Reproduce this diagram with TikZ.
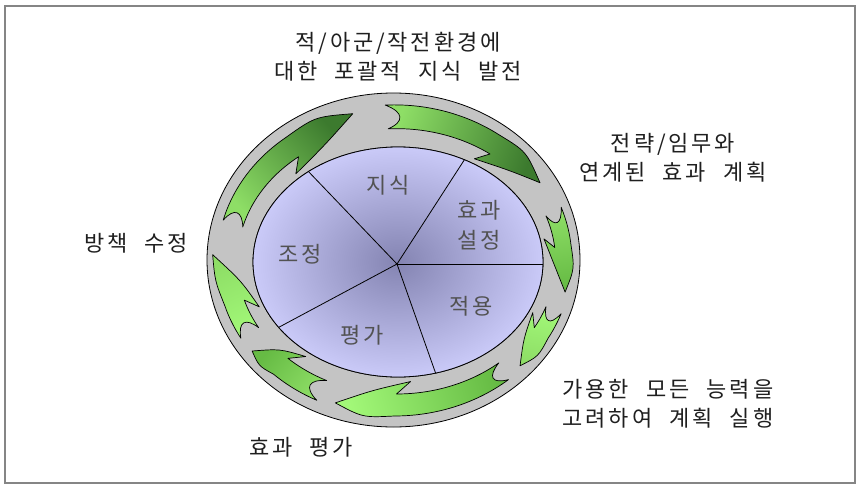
\documentclass[tikz,border=0pt]{standalone}
\usepackage{fontspec}
\newfontfamily\kr[LetterSpace=13, WordSpace=2.2]{Noto Sans CJK KR}
\definecolor{framegray}{HTML}{858585}
\definecolor{ringgray}{HTML}{C4C4C4}
\definecolor{lavdark}{HTML}{8484B2}
\definecolor{lavlight}{HTML}{CACAF8}
\definecolor{gdark}{HTML}{3C7A2E}
\definecolor{gmid}{HTML}{66BB44}
\definecolor{glight}{HTML}{8EDE66}
\definecolor{gpale}{HTML}{A2F878}
\pgfkeys{/ringcs/.cd, a/.store in=\RingA, r/.store in=\RingR, a=0, r=0}
\tikzdeclarecoordinatesystem{ring}{%
  \pgfkeys{/ringcs/.cd,#1}%
  \pgfmathsetmacro\RingX{398-4.5*\RingR+(145+41.5*\RingR)*cos(\RingA)}%
  \pgfmathsetmacro\RingY{262-2*\RingR-(115+52*\RingR)*sin(\RingA)}%
  \pgfpoint{\RingX pt}{-\RingY pt}}
% #1 tail angle, #2 head-base angle, #3 tip angle, #4 tip radius, #5 shading options
\newcommand\ringarrow[5]{%
  \shadedraw[arrowshape,#5]
    plot[domain=#1:#2, samples=30, variable=\t] (ring cs:a=\t, r=0.78)
    .. controls (ring cs:a={#2-(#2-#3)*0.5}, r=0.86) .. (ring cs:a=#3, r=#4)
    .. controls (ring cs:a={#3+(#2-#3)*0.55}, r=0.3) .. (ring cs:a=#2+5, r=0.1)
    -- (ring cs:a=#2, r=0.34)
    -- plot[domain=#2:#1, samples=30, variable=\t] (ring cs:a=\t, r=0.34)
    .. controls (ring cs:a=#1-6, r=0.47) and (ring cs:a=#1-6, r=0.65) .. (ring cs:a=#1, r=0.78)
    -- cycle;}
\begin{document}
\begin{tikzpicture}[x=1pt,y=-1pt,
  outerlbl/.style={font=\kr\fontsize{22}{29}\selectfont, text=black!88, align=center, inner sep=0pt},
  innerlbl/.style={font=\kr\fontsize{22}{30}\selectfont, text=black!68, align=center, inner sep=0pt},
  arrowshape/.style={draw=black, line width=0.7pt, line join=round},
  outline/.style={draw=black, line width=0.8pt},
  sector/.style={draw=black, line width=0.8pt}]
\useasboundingbox (0,0) rectangle (861,490);
\draw[framegray, line width=2pt] (5,6) rectangle (855,483);
% ring
\filldraw[fill=ringgray, outline, even odd rule]
  (393.5,260) ellipse [x radius=186.5pt, y radius=167pt]
  (398,262) ellipse [x radius=145pt, y radius=115pt];
% arrows (clockwise)
\ringarrow{165}{128}{104}{0.7}{top color=gdark, bottom color=glight, shading angle=-47}
\ringarrow{93}{54}{32}{0.62}{top color=gdark, bottom color=glight, shading angle=-109}
\ringarrow{20}{6}{-12}{0.7}{top color=gmid, bottom color=glight, shading angle=-170}
\ringarrow{-20}{-30}{-44}{0.7}{top color=glight, bottom color=gpale, shading angle=-191}
\ringarrow{-50}{-90}{-110}{0.7}{top color=gpale, bottom color=gmid, shading angle=105}
\ringarrow{244}{227}{216}{0.75}{top color=gmid, bottom color=glight, shading angle=50}
\ringarrow{210}{197}{178}{0.88}{top color=glight, bottom color=gpale, shading angle=24}
% inner disc
\shade[inner color=lavdark, outer color=lavlight] (398,262) ellipse [x radius=145pt, y radius=115pt];
\coordinate (hub) at (397,264);
\begin{scope}
  \clip (398,262) ellipse [x radius=145pt, y radius=115pt];
  \draw[sector] (hub) -- (590,264);
  \draw[sector] (hub) -- (483,131);
  \draw[sector] (hub) -- (284,146);
  \draw[sector] (hub) -- (242,347);
  \draw[sector] (hub) -- (449,411);
\end{scope}
\draw[outline] (398,262) ellipse [x radius=145pt, y radius=115pt];
% inner labels
\node[innerlbl] (jisik) at (388,185) {지식};
\node[innerlbl] (hyogwa) at (479,225) {효과\\설정};
\node[innerlbl] (jojeong) at (300,254) {조정};
\node[innerlbl] (jeogyong) at (471,306) {적용};
\node[innerlbl] (pyeongga) at (362,335) {평가};
% outer labels
\node[outerlbl] (ltop) at (398,57) {적/아군/작전환경에\\대한 포괄적 지식 발전};
\node[outerlbl] (lur) at (673,158) {전략/임무와\\연계된 효과 계획};
\node[outerlbl] (lleft) at (136,243) {방책 수정};
\node[outerlbl] (llr) at (668,404) {가용한 모든 능력을\\고려하여 계획 실행};
\node[outerlbl] (lbot) at (301,447) {효과 평가};
\end{tikzpicture}
\end{document}
